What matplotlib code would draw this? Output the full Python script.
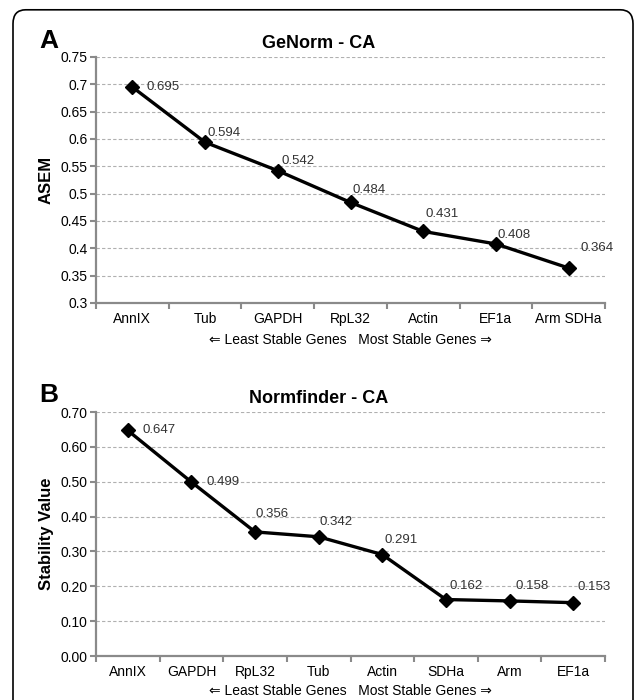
import matplotlib
matplotlib.use('Agg')
import matplotlib.pyplot as plt
from matplotlib.patches import FancyBboxPatch

plt.rcParams['font.family'] = ['Liberation Sans', 'DejaVu Sans']

# Panel A - GeNorm
genes_a = ['AnnIX', 'Tub', 'GAPDH', 'RpL32', 'Actin', 'EF1a', 'Arm SDHa']
asem = [0.695, 0.594, 0.542, 0.484, 0.431, 0.408, 0.364]
ticks_a = [0.3, 0.35, 0.4, 0.45, 0.5, 0.55, 0.6, 0.65, 0.7, 0.75]
ticklabels_a = ['0.3', '0.35', '0.4', '0.45', '0.5', '0.55', '0.6', '0.65', '0.7', '0.75']

# Panel B - Normfinder
genes_b = ['AnnIX', 'GAPDH', 'RpL32', 'Tub', 'Actin', 'SDHa', 'Arm', 'EF1a']
stability = [0.647, 0.499, 0.356, 0.342, 0.291, 0.162, 0.158, 0.153]
ticks_b = [0.0, 0.1, 0.2, 0.3, 0.4, 0.5, 0.6, 0.7]

# label offsets in pixels (dx, dy)
offs_a = [(14, 0), (2, 9), (4, 10), (2, 12), (2, 17), (2, 9), (12, 20)]
offs_b = [(15, 0), (15, 0), (0, 18), (1, 15), (2, 15), (4, 14), (6, 15), (4, 16)]

GRAY = '#8a8a8a'
W, H = 635, 700


def draw(ax, genes, vals, offs, ticks, ticklabels, ylim):
    x = range(len(genes))
    ax.plot(x, vals, color='black', lw=2.4, marker='D', ms=7, zorder=3)
    for i, v in enumerate(vals):
        ax.annotate('{:.3f}'.format(v), (i, v), xytext=offs[i], textcoords='offset pixels',
                    ha='left', va='center', fontsize=9.5, color='#333333')
    ax.set_xlim(-0.5, len(genes) - 0.5)
    ax.set_ylim(*ylim)
    ax.set_yticks(ticks)
    ax.set_yticklabels(ticklabels, fontsize=10)
    ax.set_xticks(list(x))
    ax.set_xticklabels(genes, fontsize=10)
    ax.set_xticks([i - 0.5 for i in range(len(genes) + 1)], minor=True)
    ax.tick_params(axis='x', which='major', length=0, pad=6.5)
    ax.tick_params(axis='x', which='minor', length=4, width=1.5, color=GRAY, direction='out')
    ax.tick_params(axis='y', length=4, width=1.5, color=GRAY, pad=2)
    for t in ticks:
        if t > ylim[0] + 1e-9:
            ax.axhline(t, color='#b0b0b0', lw=0.8, ls=(0, (3, 2)), zorder=1)
    for s in ['top', 'right']:
        ax.spines[s].set_visible(False)
    for s in ['left', 'bottom']:
        ax.spines[s].set_color(GRAY)
        ax.spines[s].set_linewidth(1.6)


def px(x, y):
    return x / W, 1 - y / H


fig = plt.figure(figsize=(6.35, 7.0), dpi=100)

border = FancyBboxPatch((13 / W, -0.05), 620 / W, 1.036, boxstyle='round,pad=0,rounding_size=0.02',
                        transform=fig.transFigure, fill=False, ec='black', lw=1.2)
fig.patches.append(border)

xlabel = '\u21d0 Least Stable Genes   Most Stable Genes \u21d2'

ax1 = fig.add_axes([96 / W, 1 - 303 / H, 509 / W, 246 / H])
draw(ax1, genes_a, asem, offs_a, ticks_a, ticklabels_a, (0.3, 0.75))
fig.text(*px(39, 41), 'A', fontsize=19, fontweight='bold', va='center', ha='left')
fig.text(*px(319, 43), 'GeNorm - CA', fontsize=13, fontweight='bold', va='center', ha='center')
fig.text(*px(46, 180), 'ASEM', fontsize=12, fontweight='bold', va='center', ha='center', rotation=90)
fig.text(*px(350, 340), xlabel, fontsize=10, va='center', ha='center')

ax2 = fig.add_axes([96 / W, 1 - 656 / H, 509 / W, 244 / H])
draw(ax2, genes_b, stability, offs_b, ticks_b, ['%.2f' % t for t in ticks_b], (0.0, 0.7))
fig.text(*px(39, 395), 'B', fontsize=19, fontweight='bold', va='center', ha='left')
fig.text(*px(319, 399), 'Normfinder - CA', fontsize=13, fontweight='bold', va='center', ha='center')
fig.text(*px(46, 534), 'Stability Value', fontsize=12, fontweight='bold', va='center', ha='center',
         rotation=90)
fig.text(*px(350, 691), xlabel, fontsize=10, va='center', ha='center')

fig.savefig('out.png', dpi=100)
